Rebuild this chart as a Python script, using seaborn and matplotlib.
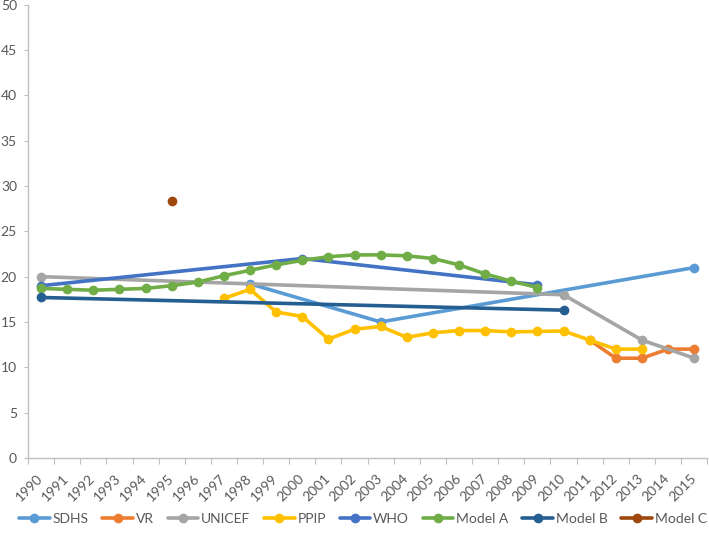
import numpy as np
import pandas as pd
import seaborn as sns
from matplotlib import pyplot as plt
from matplotlib.lines import Line2D
from matplotlib.transforms import ScaledTranslation

years = list(range(1990, 2016))

# 各数据源 (年份, 数值)
sdhs_years = [1998, 2003, 2015]
sdhs_vals = [19.2, 15.0, 21.0]
vr_years = [2011, 2012, 2013, 2014, 2015]
vr_vals = [13.0, 11.0, 11.0, 12.0, 12.0]
unicef_years = [1990, 2010, 2013, 2015]
unicef_vals = [20.0, 18.0, 13.0, 11.0]
ppip_years = list(range(1997, 2014))
ppip_vals = [17.6, 18.6, 16.1, 15.6, 13.1, 14.2, 14.5, 13.3, 13.8, 14.05, 14.05, 13.9, 13.95, 14.0, 13.0, 12.0, 12.0]
who_years = [1990, 2000, 2009]
who_vals = [19.0, 22.0, 19.1]
model_a_years = list(range(1990, 2010))
model_a_vals = [18.7, 18.6, 18.5, 18.6, 18.7, 19.0, 19.4, 20.1, 20.7, 21.3, 21.8, 22.2, 22.4,
                22.4, 22.3, 22.0, 21.3, 20.3, 19.5, 18.8]
model_b_years = [1990, 2010]
model_b_vals = [17.7, 16.3]
model_c_years = [1995]
model_c_vals = [28.3]

series_names = ['SDHS', 'VR', 'UNICEF', 'PPIP', 'WHO', 'Model A', 'Model B', 'Model C']
series_data = [(sdhs_years, sdhs_vals), (vr_years, vr_vals), (unicef_years, unicef_vals),
               (ppip_years, ppip_vals), (who_years, who_vals), (model_a_years, model_a_vals),
               (model_b_years, model_b_vals), (model_c_years, model_c_vals)]
colors = ['#5B9BD5', '#ED7D31', '#A5A5A5', '#FFC000', '#4472C4', '#70AD47', '#255E91', '#9E480E']

sns.set_style('white')
plt.rcParams['font.family'] = ['Lato', 'DejaVu Sans']

fig = plt.figure(figsize=(7.09, 5.38), dpi=100)
ax = fig.add_axes([0.0395, 0.149, 0.958, 0.842])

for name, (xs, ys), c in zip(series_names, series_data, colors):
    df = pd.DataFrame({'year': xs, 'value': ys})
    sns.lineplot(data=df, x='year', y='value', color=c, linewidth=2.6, marker='o',
                 markersize=7, markeredgewidth=0, ax=ax, label=name, legend=False)

ax.set_xlim(1989.5, 2015.5)
ax.set_ylim(0, 50)
ax.set_yticks(np.arange(0, 51, 5))
# 类别轴：刻度线在类别边界，标签放在类别中心
ax.set_xticks(np.arange(1989.5, 2016, 1))
ax.set_xticklabels([])
ax.tick_params(axis='x', which='major', length=4, width=0.8, color='#BFBFBF', direction='out', bottom=True)
ax.tick_params(axis='y', length=3, width=0.8, color='#BFBFBF', direction='out', left=True,
               labelsize=10, labelcolor='#595959', pad=5)
offset = ScaledTranslation(0.04, -0.14, fig.dpi_scale_trans)
for y in years:
    ax.text(y, 0, str(y), transform=ax.get_xaxis_transform() + offset, rotation=45,
            ha='right', va='top', fontsize=10, color='#595959')
ax.set_xlabel('')
ax.set_ylabel('')
for s in ['top', 'right']:
    ax.spines[s].set_visible(False)
for s in ['left', 'bottom']:
    ax.spines[s].set_color('#BFBFBF')
    ax.spines[s].set_linewidth(1.0)

handles = [Line2D([0], [0], color=c, linewidth=2.6, marker='o', markersize=7, markeredgewidth=0)
           for c in colors]
fig.legend(handles, series_names, loc='center', bbox_to_anchor=(0.512, 0.035), ncol=8,
           frameon=False, fontsize=10, labelcolor='#595959', handlelength=2.2,
           handletextpad=0.2, columnspacing=1.0)

plt.savefig('out.png', dpi=100)
